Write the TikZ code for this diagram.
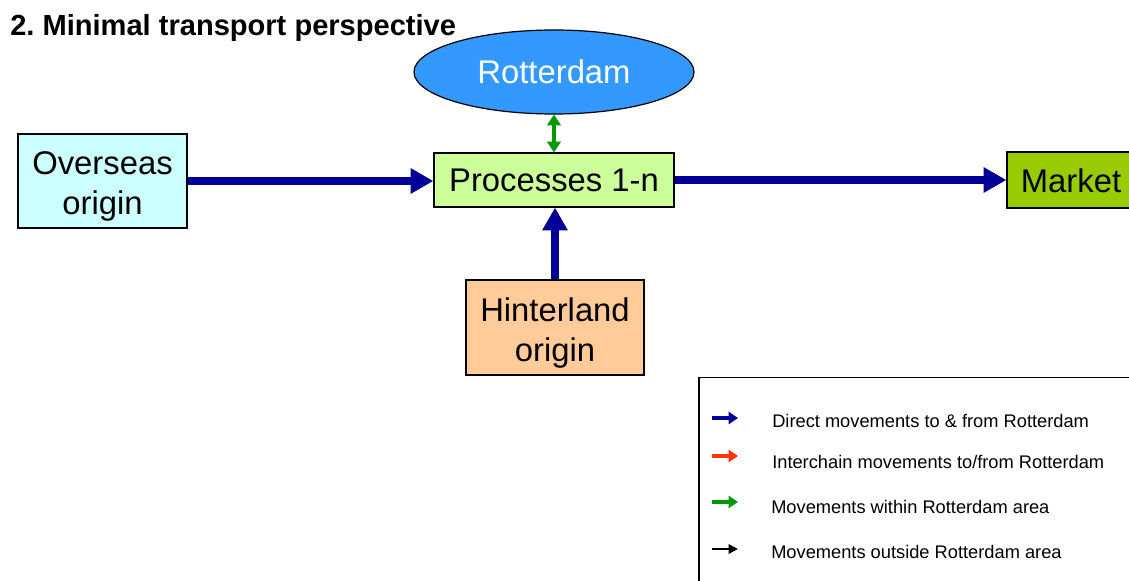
\documentclass[tikz,border=0pt]{standalone}
\usepackage{fontspec}
\setmainfont{Liberation Sans}
\frenchspacing
\usetikzlibrary{arrows.meta,shapes.geometric}
\definecolor{flowblue}{HTML}{000099}
\definecolor{localgreen}{HTML}{009900}
\definecolor{chainred}{HTML}{FF3300}
\definecolor{overseasfill}{HTML}{CCFFFF}
\definecolor{processfill}{HTML}{CCFF99}
\definecolor{marketfill}{HTML}{99CC00}
\definecolor{hinterfill}{HTML}{FFCC99}
\definecolor{portfill}{HTML}{3399FF}
% taller first line, so two-line labels sit a little lower in their boxes
\newcommand{\toplift}{\rule{0pt}{25.5pt}}
\tikzset{
  bigtext/.style={font=\fontsize{24.6}{30}\selectfont},
  box/.style={draw=black, line width=0.9pt, inner sep=0pt, bigtext, align=center},
  mainflow/.style={draw=flowblue, line width=6pt, -{Triangle[length=17pt,width=18pt]}},
  localflow/.style={draw=localgreen, line width=2.8pt, {Triangle[length=8pt,width=10pt]}-{Triangle[length=8pt,width=10pt]}},
  keyarrow/.style={line width=2.8pt, -{Triangle[length=7pt,width=9pt]}},
  keytext/.style={anchor=west, font=\fontsize{13.7}{16}\selectfont, inner sep=0pt},
}
\begin{document}
\begin{tikzpicture}[x=0.75pt,y=-0.75pt]
\useasboundingbox (0,0) rectangle (1129,581);
\clip (0,0) rectangle (1129,581);
\fill[white] (0,0) rectangle (1129,581);

% heading
\node[anchor=west, inner sep=0pt, font=\fontsize{21.8}{25}\selectfont\bfseries] (title) at (10,28) {2. Minimal transport perspective};

% boxes
\node[box, fill=overseasfill, minimum width=169*0.75pt, minimum height=94*0.75pt] (overseas) at (102.5,181) {\toplift Overseas\\origin};
\node[box, fill=processfill, minimum width=240*0.75pt, minimum height=54*0.75pt] (proc) at (554,180) {Processes 1-n};
\node[box, fill=marketfill, minimum width=134*0.75pt, minimum height=56*0.75pt] (market) at (1074,180) {};
\node[bigtext, inner sep=0pt] (markettext) at (1071,181) {Market};
\node[box, fill=hinterfill, minimum width=178*0.75pt, minimum height=95*0.75pt] (hinter) at (555,327.5) {\toplift Hinterland\\origin};
\node[ellipse, draw=black, line width=0.9pt, fill=portfill, minimum width=280*0.75pt, minimum height=84*0.75pt, inner sep=0pt, text=white, bigtext] (port) at (554,72) {Rotterdam};

% flows
\draw[mainflow] (overseas.east |- 0,181) -- (proc.west |- 0,181);
\draw[mainflow] (proc.east) -- (market.west);
\draw[mainflow] (hinter.north) -- (hinter.north |- proc.south);
\draw[localflow] (port.south) -- (port.south |- proc.north);

% key
\draw[black, line width=0.8pt] (699,620) coordinate (k1) -- (699,377.5) coordinate (k2) -- (1140,377.5) coordinate (k3);
\coordinate (a1s) at (712,418); \coordinate (a1e) at (738,418);
\coordinate (a2s) at (712,456); \coordinate (a2e) at (738,456);
\coordinate (a3s) at (712,502); \coordinate (a3e) at (738,502);
\coordinate (a4s) at (712,549); \coordinate (a4e) at (738,549);
\draw[keyarrow, flowblue] (a1s) -- (a1e);
\draw[keyarrow, chainred] (a2s) -- (a2e);
\draw[keyarrow, localgreen] (a3s) -- (a3e);
\draw[line width=1.5pt, -{Triangle[length=7pt,width=7pt]}, black] (a4s) -- (a4e);
\node[keytext] (t1) at (772,421) {Direct movements to \& from Rotterdam};
\node[keytext] (t2) at (772,462) {Interchain movements to/from Rotterdam};
\node[keytext] (t3) at (771,507) {Movements within Rotterdam area};
\node[keytext] (t4) at (771,552) {Movements outside Rotterdam area};
\end{tikzpicture}
\end{document}
